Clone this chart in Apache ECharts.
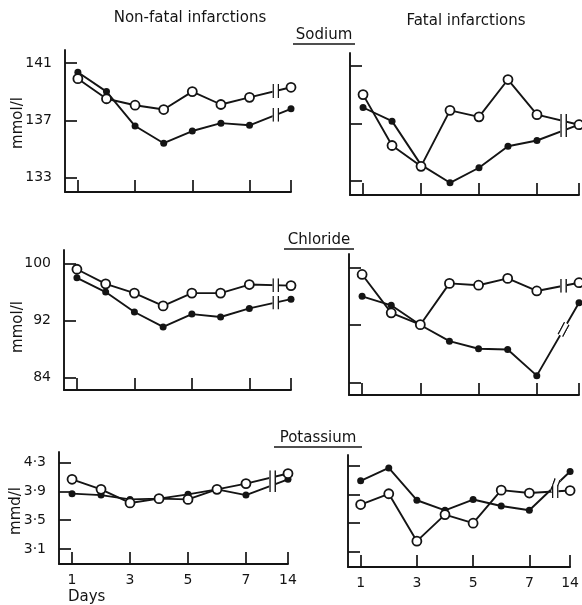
<!DOCTYPE html>
<html>
<head>
<meta charset="utf-8">
<script src="https://cdn.jsdelivr.net/npm/echarts@6/dist/echarts.min.js"></script>
<style>
html,body{margin:0;padding:0;background:#fff;}
#chart{width:582px;height:605px;}
</style>
</head>
<body>
<div id="chart"></div>
<script>
// ---- data ----
const days = [1, 2, 3, 4, 5, 6, 7, 14];
const xTickDays = [1, 3, 5, 7, 14];

const sodiumNonFatalOpen   = [139.9, 138.5, 138.05, 137.75, 139.0, 138.1, 138.6, 139.3];
const sodiumNonFatalFilled = [140.35, 139.0, 136.6, 135.4, 136.25, 136.8, 136.65, 137.8];
const sodiumFatalOpen      = [139.0, 135.45, 134.0, 137.9, 137.45, 140.05, 137.6, 136.9];
const sodiumFatalFilled    = [138.1, 137.15, 134.1, 132.85, 133.9, 135.4, 135.8, 136.9];
const sodiumTicks = [133, 137, 141];

const chlorideNonFatalOpen   = [99.2, 97.15, 95.85, 94.05, 95.85, 95.85, 97.05, 96.9];
const chlorideNonFatalFilled = [98.0, 96.0, 93.2, 91.1, 92.9, 92.5, 93.7, 95.0];
const chlorideFatalOpen      = [99.05, 93.7, 92.05, 97.8, 97.55, 98.5, 96.75, 97.9];
const chlorideFatalFilled    = [96.0, 94.75, 92.0, 89.75, 88.7, 88.6, 84.95, 95.1];
const chlorideTicks = [84, 92, 100];

const potassiumNonFatalOpen   = [4.07, 3.93, 3.74, 3.80, 3.79, 3.93, 4.01, 4.15];
const potassiumNonFatalFilled = [3.87, 3.85, 3.79, 3.80, 3.86, 3.93, 3.85, 4.07];
const potassiumFatalOpen      = [3.76, 3.91, 3.25, 3.62, 3.50, 3.96, 3.92, 3.955];
const potassiumFatalFilled    = [4.09, 4.27, 3.82, 3.68, 3.83, 3.74, 3.68, 4.22];
const potassiumTicks = [3.1, 3.5, 3.9, 4.3];

// ---- layout / style ----
const INK = '#141414';
const FONT = 'DejaVu Sans';
const POS14 = 8.45;       // axis position of day 14 (after the break)
const BREAK_X = 7.92;     // where the break symbol sits
const X_MIN = 0.55;
const pos = d => (d <= 7 ? d : POS14);
const dayOf = p => (Math.abs(p - POS14) < 1e-6 ? 14 : Math.round(p));

const panels = [
  {grid: {left: 65, top: 50, width: 226, height: 142}, y: [132.0, 141.9], ticks: sodiumTicks, open: sodiumNonFatalOpen, filled: sodiumNonFatalFilled, yLabels: true, xLabels: false},
  {grid: {left: 350, top: 53, width: 229, height: 142}, y: [132.0, 141.9], ticks: sodiumTicks, open: sodiumFatalOpen, filled: sodiumFatalFilled, yLabels: false, xLabels: false},
  {grid: {left: 64, top: 250, width: 227, height: 140}, y: [82.25, 101.9], ticks: chlorideTicks, open: chlorideNonFatalOpen, filled: chlorideNonFatalFilled, yLabels: true, xLabels: false},
  {grid: {left: 349, top: 254, width: 230, height: 141}, y: [82.25, 101.9], ticks: chlorideTicks, open: chlorideFatalOpen, filled: chlorideFatalFilled, yLabels: false, xLabels: false, filledBreakRotate: -28},
  {grid: {left: 59, top: 452, width: 229, height: 112}, y: [2.89, 4.45], ticks: potassiumTicks, open: potassiumNonFatalOpen, filled: potassiumNonFatalFilled, yLabels: true, xLabels: true, dot: true},
  {grid: {left: 348, top: 455, width: 231, height: 112}, y: [2.89, 4.45], ticks: potassiumTicks, open: potassiumFatalOpen, filled: potassiumFatalFilled, yLabels: false, xLabels: true, dot: true, filledBreakRotate: -20}
];

const breakSvg = '<svg xmlns="http://www.w3.org/2000/svg" width="16" height="28" viewBox="0 0 16 28">' +
  '<rect x="0" y="0" width="16" height="28" fill="#ffffff"/>' +
  '<line x1="2" y1="0" x2="2" y2="28" stroke="#141414" stroke-width="3.2"/>' +
  '<line x1="14" y1="0" x2="14" y2="28" stroke="#141414" stroke-width="3.2"/></svg>';
const breakSymbol = 'image://data:image/svg+xml;charset=utf-8,' + encodeURIComponent(breakSvg);

const xTickPos = xTickDays.map(pos);

const grids = [], xAxes = [], yAxes = [], series = [];
panels.forEach((p, i) => {
  grids.push(Object.assign({containLabel: false}, p.grid));
  xAxes.push({
    type: 'value', gridIndex: i, min: X_MIN, max: POS14,
    axisLine: {show: true, onZero: false, lineStyle: {color: INK, width: 1.9}},
    axisTick: {show: true, inside: true, length: 12, customValues: xTickPos, lineStyle: {color: INK, width: 1.7}},
    axisLabel: {show: p.xLabels, customValues: xTickPos, color: INK, fontFamily: FONT, fontSize: 14, margin: 9,
      formatter: v => String(dayOf(v))},
    splitLine: {show: false}
  });
  yAxes.push({
    type: 'value', gridIndex: i, min: p.y[0], max: p.y[1],
    axisLine: {show: true, onZero: false, lineStyle: {color: INK, width: 1.9}},
    axisTick: {show: true, inside: true, length: 12, customValues: p.ticks, lineStyle: {color: INK, width: 1.7}},
    axisLabel: {show: p.yLabels, customValues: p.ticks, color: INK, fontFamily: FONT, fontSize: 14, margin: 13,
      formatter: v => p.dot ? v.toFixed(1).replace('.', '\u00b7') : String(v)},
    splitLine: {show: false}
  });
  const mk = (vals, open, rot) => {
    const v7 = vals[6], v14 = vals[7];
    const yb = v7 + (v14 - v7) * (BREAK_X - 7) / (POS14 - 7);
    return {
      type: 'line', xAxisIndex: i, yAxisIndex: i,
      data: days.map((d, k) => [pos(d), vals[k]]),
      symbol: 'circle', symbolSize: open ? 9 : 7,
      showAllSymbol: true, animation: false, z: open ? 4 : 3,
      lineStyle: {color: INK, width: 1.9},
      itemStyle: open ? {color: '#ffffff', borderColor: INK, borderWidth: 1.8} : {color: INK, borderColor: INK, borderWidth: 0},
      markPoint: {
        symbol: breakSymbol, symbolSize: [7, 14], symbolRotate: rot || 0, animation: false, silent: true,
        label: {show: false},
        data: [{coord: [BREAK_X, yb]}]
      }
    };
  };
  series.push(mk(p.filled, false, p.filledBreakRotate));
  series.push(mk(p.open, true, 0));
});

const txt = (x, y, s, size, extra) => Object.assign({
  type: 'text', x: x, y: y,
  style: {text: s, fill: INK, font: size + 'px "' + FONT + '"', textAlign: 'center', textVerticalAlign: 'middle'}
}, extra || {});
const underline = (x1, x2, y) => ({type: 'line', shape: {x1: x1, y1: y, x2: x2, y2: y}, style: {stroke: INK, lineWidth: 1.5}});

const graphics = [
  txt(190, 18, 'Non-fatal infarctions', 15),
  txt(466, 21, 'Fatal infarctions', 15),
  txt(324, 35, 'Sodium', 15), underline(293, 355, 44),
  txt(319, 240, 'Chloride', 15), underline(284, 354, 249),
  txt(318, 438, 'Potassium', 15), underline(274, 362, 447),
  txt(18, 123, 'mmol/l', 15, {rotation: Math.PI / 2}),
  txt(18, 327, 'mmol/l', 15, {rotation: Math.PI / 2}),
  txt(16, 511, 'mmd/l', 15, {rotation: Math.PI / 2}),
  {type: 'text', x: 68, y: 597, style: {text: 'Days', fill: INK, font: '15px "' + FONT + '"', textAlign: 'left', textVerticalAlign: 'middle'}}
];

const chart = echarts.init(document.getElementById('chart'), null, {renderer: 'canvas'});
chart.setOption({
  backgroundColor: '#ffffff',
  animation: false,
  grid: grids, xAxis: xAxes, yAxis: yAxes, series: series,
  graphic: graphics
});
</script>
</body>
</html>
